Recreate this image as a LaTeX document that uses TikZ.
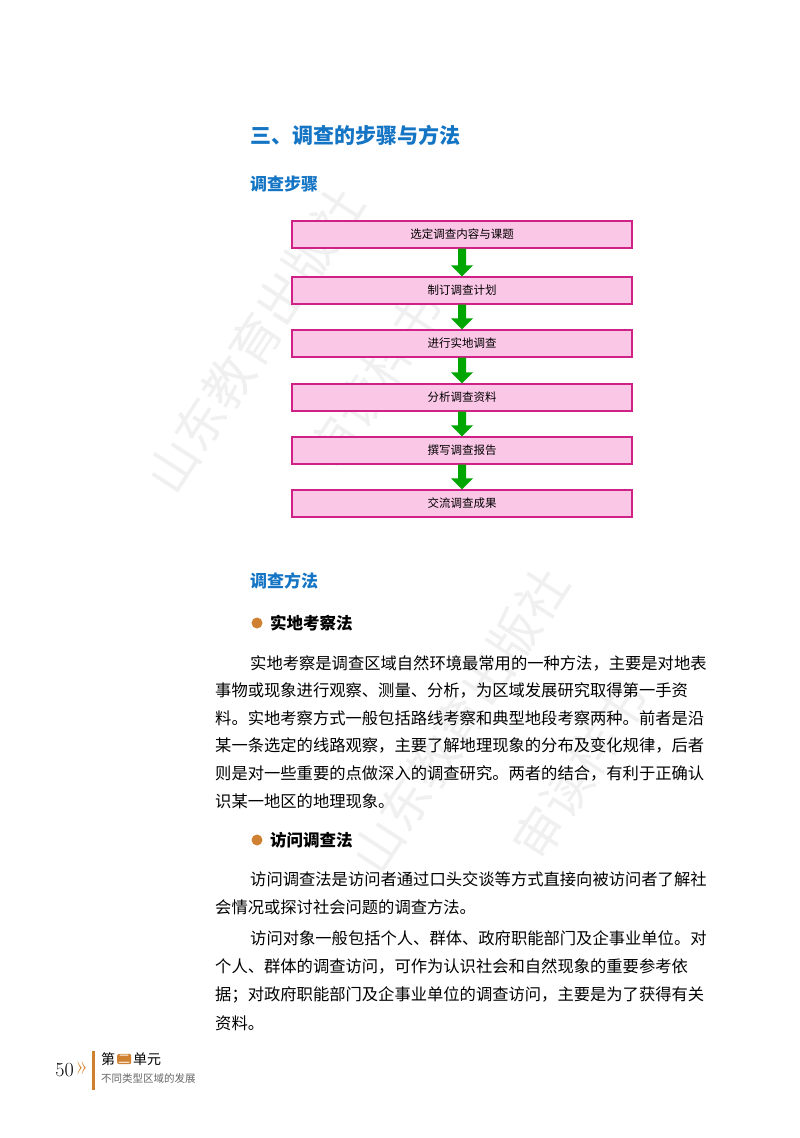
\documentclass[tikz,border=0pt]{standalone}
\usepackage{fontspec}
\usetikzlibrary{calc}
\newfontfamily\cjk{Noto Sans CJK SC}
\begin{document}
\begin{tikzpicture}[x=1pt,y=-1pt,
  stepbox/.style={draw=magenta!85!black,line width=1.2pt,fill=magenta!22,minimum width=340pt,minimum height=27pt,inner sep=0pt,font=\cjk\fontsize{11.5}{12}\selectfont},
  garrow/.style={draw=none,fill=green!65!black},
  head/.style={anchor=west,inner sep=0pt,text=cyan!55!blue,font=\cjk\bfseries\fontsize{17}{18}\selectfont},
  body/.style={anchor=west,inner sep=0pt,font=\cjk\fontsize{16.3}{18}\selectfont},
  wm/.style={text=gray!12,rotate=57,font=\cjk\fontsize{50}{52}\selectfont,inner sep=0pt}]
\useasboundingbox (0,0) rectangle (800,1138);
\fill[white] (0,0) rectangle (800,1138);
% watermark
\node[wm] (w1) at (255,340) {山东教育出版社};
\node[wm] (w2) at (375,380) {审读样书};
\node[wm] (w3) at (460,720) {山东教育出版社};
\node[wm] (w4) at (580,770) {审读样书};
% titles
\node[head,font=\cjk\bfseries\fontsize{21}{22}\selectfont] (t) at (250,135) {三、调查的步骤与方法};
\node[head] (h1) at (250,184) {调查步骤};
% flow
\foreach \n/\y/\t in {1/234.5/选定调查内容与课题,2/290.5/制订调查计划,3/343.5/进行实地调查,4/397.5/分析调查资料,5/450.5/撰写调查报告,6/503.5/交流调查成果}
  \node[stepbox] (s\n) at (462,\y) {\t};
\foreach \a/\b in {s1/s2,s2/s3,s3/s4,s4/s5,s5/s6}{
  \path (\a.south) coordinate (p) (\b.north) coordinate (q);
  \fill[garrow] ($(p)+(-4,0)$) -- ($(p)+(4,0)$) -- ($(q)+(4,-11)$) -- ($(q)+(11,-11)$) -- (q) -- ($(q)+(-11,-11)$) -- ($(q)+(-4,-11)$) -- cycle;
}
\node[head] (h2) at (250,581) {调查方法};
\fill[brown!75!orange] (257,623) circle (5.5);
\node[body,font=\cjk\bfseries\fontsize{16.5}{18}\selectfont] (b1) at (270,623) {实地考察法};
\node[body] (l1) at (250,663) {实地考察是调查区域自然环境最常用的一种方法，主要是对地表};
\node[body] (l2) at (215,690.6) {事物或现象进行观察、测量、分析，为区域发展研究取得第一手资};
\node[body] (l3) at (215,718.2) {料。实地考察方式一般包括路线考察和典型地段考察两种。前者是沿};
\node[body] (l4) at (215,745.8) {某一条选定的线路观察，主要了解地理现象的分布及变化规律，后者};
\node[body] (l5) at (215,773.4) {则是对一些重要的点做深入的调查研究。两者的结合，有利于正确认};
\node[body] (l6) at (215,801) {识某一地区的地理现象。};
\fill[brown!75!orange] (257,840) circle (5.5);
\node[body,font=\cjk\bfseries\fontsize{16.5}{18}\selectfont] (b2) at (270,840) {访问调查法};
\node[body] (m1) at (250,879) {访问调查法是访问者通过口头交谈等方式直接向被访问者了解社};
\node[body] (m2) at (215,907) {会情况或探讨社会问题的调查方法。};
\node[body] (m3) at (250,938) {访问对象一般包括个人、群体、政府职能部门及企事业单位。对};
\node[body] (m4) at (215,966) {个人、群体的调查访问，可作为认识社会和自然现象的重要参考依};
\node[body] (m5) at (215,995) {据；对政府职能部门及企事业单位的调查访问，主要是为了获得有关};
\node[body] (m6) at (215,1023) {资料。};
% footer
\node[anchor=east,inner sep=0pt,font=\fontsize{20}{20}\selectfont] (pg) at (74,1070) {50};
\node[anchor=west,inner sep=0pt,text=brown!60!orange,font=\fontsize{26}{26}\selectfont] (ch) at (75,1068) {»};
\fill[brown!75!orange] (92,1051) rectangle (95,1090);
\node[anchor=west,inner sep=0pt,font=\cjk\fontsize{14}{15}\selectfont] (f1) at (101,1059) {第};
\node[anchor=west,fill=brown!75!orange,rounded corners=2pt,text=white,inner sep=1pt,font=\cjk\fontsize{12}{13}\selectfont] (f2) at (117,1059) {二};
\node[anchor=west,inner sep=0pt,font=\cjk\fontsize{14}{15}\selectfont] (f3) at (133,1059) {单元};
\node[anchor=west,inner sep=0pt,text=gray!80!black,font=\cjk\fontsize{10.5}{12}\selectfont] (f4) at (101,1078) {不同类型区域的发展};
\end{tikzpicture}
\end{document}
